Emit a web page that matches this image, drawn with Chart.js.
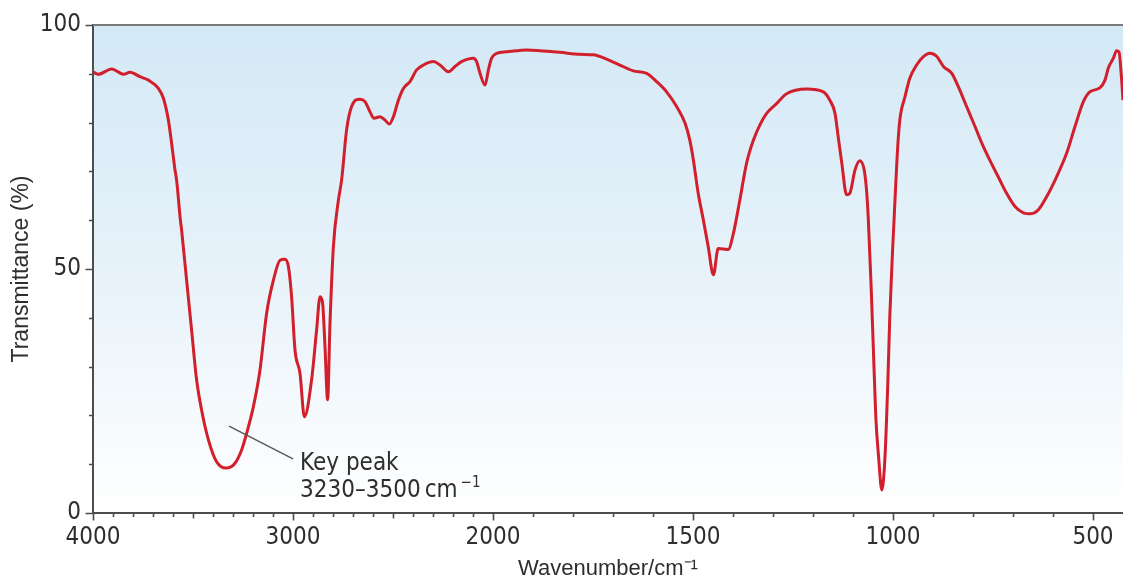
<!DOCTYPE html>
<html>
<head>
<meta charset="utf-8">
<title>IR spectrum</title>
<script src="https://cdn.jsdelivr.net/npm/chart.js@4.4.1/dist/chart.umd.min.js"></script>
<style>
  html, body { margin: 0; padding: 0; background: #fff; }
  #wrap { width: 1123px; height: 583px; }
</style>
</head>
<body>
<div id="wrap"><canvas id="irChart"></canvas></div>
<script>
// spectrum, read point by point (cm-1 / % T)
const wavenumbers = [
  4000, 3973, 3907, 3848, 3815, 3765, 3723, 3673, 3648, 3623, 3607, 3590, 3582, 3563, 3557,
  3532, 3507, 3482, 3457, 3423, 3382, 3335, 3290, 3257, 3232, 3198, 3165, 3132, 3098,
  3065, 3040, 3023, 3007, 2990, 2965, 2943, 2907, 2882, 2865, 2852, 2840, 2827, 2815,
  2798, 2773, 2757, 2732, 2707, 2665, 2640, 2615, 2595, 2565, 2540, 2518, 2498, 2473,
  2448, 2415, 2382, 2348, 2298, 2265, 2223, 2190, 2157, 2098, 2082, 2065, 2040, 2023,
  2007, 1991, 1966, 1916, 1833, 1783, 1749, 1716, 1683, 1649, 1616, 1591, 1566, 1541,
  1520, 1508, 1499, 1487, 1474, 1462, 1449, 1437, 1412, 1399, 1383, 1366, 1349, 1333,
  1316, 1291, 1266, 1216, 1174, 1158, 1145, 1137, 1128, 1116, 1108, 1095, 1083, 1072,
  1066, 1062, 1055, 1049, 1043, 1036, 1028, 1020, 1013, 1008, 1001, 995, 989, 983,
  970, 958, 941, 924, 908, 891, 874, 853, 837, 816, 795, 778, 758, 737,
  716, 695, 674, 658, 637, 616, 591, 566, 545, 524, 508, 483, 470, 462,
  449, 441, 435, 429, 425
];
const transmittance = [
  90.4, 89.9, 91.0, 89.9, 90.3, 89.4, 88.7, 87.0, 85.0, 80.5, 75.8, 70.3, 68.2, 60.0, 58.0,
  47.7, 37.5, 27.3, 21.1, 15.0, 10.5, 9.2, 10.2, 12.9, 16.3, 21.8, 29.3, 40.9, 47.7,
  51.8, 52.0, 50.5, 44.3, 33.4, 28.6, 19.7, 27.3, 37.5, 44.3, 43.0, 34.1, 23.2, 38.9,
  54.6, 64.1, 68.2, 78.5, 83.3, 84.8, 84.3, 82.2, 80.9, 81.2, 80.5, 79.7, 81.2, 84.6,
  87.0, 88.4, 90.8, 91.8, 92.5, 91.8, 90.4, 91.5, 92.5, 93.2, 92.5, 90.1, 87.7, 90.8,
  93.2, 94.2, 94.5, 94.9, 94.4, 94.0, 93.9, 93.0, 91.8, 90.6, 90.1, 88.4, 86.3, 83.3,
  79.9, 76.4, 72.3, 65.5, 60.0, 54.6, 48.8, 54.2, 54.0, 57.3, 64.1, 71.7, 76.4, 79.5,
  81.9, 83.9, 85.9, 86.9, 86.3, 84.6, 81.9, 77.1, 71.7, 65.2, 65.5, 70.3, 72.2, 70.3,
  66.0, 60.7, 47.1, 33.4, 19.7, 11.5, 4.7, 11.5, 26.6, 40.3, 53.9, 64.1, 74.0, 80.5,
  85.3, 89.1, 91.8, 93.5, 94.2, 93.6, 91.5, 90.1, 87.4, 83.3, 79.2, 75.8, 72.3, 68.9,
  65.5, 62.8, 61.5, 61.3, 62.1, 64.8, 68.9, 73.7, 79.2, 84.3, 86.3, 87.1, 88.7, 91.1,
  93.2, 94.7, 94.5, 89.4, 84.6
];
const xLabelled = [4000, 3000, 2000, 1500, 1000, 500];
const yLabelled = [0, 50, 100];

const narrow = '"Liberation Sans Narrow", "DejaVu Sans Condensed", sans-serif';
const regular = '"Liberation Sans", Arial, sans-serif';
const inkColor = '#2e2e2e';
const axisColor = '#4d4d4d';

// the wavenumber axis is drawn at half density above 2000 cm-1
const X_MAX = 4000, X_BREAK = 2000;
function axisUnits(w) {
  return w >= X_BREAK ? (X_MAX - w) / 2 : (X_MAX - X_BREAK) / 2 + (X_BREAK - w);
}
function fromAxisUnits(u) {
  const knee = (X_MAX - X_BREAK) / 2;
  return u <= knee ? X_MAX - u * 2 : X_BREAK - (u - knee);
}

class WavenumberScale extends Chart.LinearScale {
  static id = 'wavenumber';
  buildTicks() {
    const ticks = [];
    for (let v = this.max; v >= 500; v -= 100) ticks.push({ value: v });
    return ticks;
  }
  getPixelForValue(value) {
    if (value === null || value === undefined) return NaN;
    return this.getPixelForDecimal(axisUnits(value) / axisUnits(this.min));
  }
  getValueForPixel(pixel) {
    return fromAxisUnits(this.getDecimalForPixel(pixel) * axisUnits(this.min));
  }
}
Chart.register(WavenumberScale);

// pale blue wash behind the trace
const plotBackground = {
  id: 'plotBackground',
  beforeDraw(chart) {
    const { ctx, chartArea: a } = chart;
    const g = ctx.createLinearGradient(0, a.top, 0, a.bottom);
    g.addColorStop(0, '#d3e9f6');
    g.addColorStop(0.55, '#e9f3fa');
    g.addColorStop(1, '#ffffff');
    ctx.save();
    ctx.fillStyle = g;
    ctx.fillRect(a.left, a.top, a.right - a.left, a.bottom - a.top);
    ctx.restore();
  }
};

// outward tick marks of different lengths, plus the top frame line
const tickMarks = {
  id: 'tickMarks',
  afterDraw(chart) {
    const { ctx, chartArea: a, scales: { x, y } } = chart;
    ctx.save();
    ctx.strokeStyle = axisColor;
    ctx.lineWidth = 1.6;
    ctx.beginPath();
    x.ticks.forEach(t => {
      const px = Math.round(x.getPixelForValue(t.value)) + 0.5;
      let len = 4;
      if (xLabelled.includes(t.value)) len = 7.5;
      else if (t.value % 500 === 0) len = 5.5;
      ctx.moveTo(px, a.bottom);
      ctx.lineTo(px, a.bottom + len);
    });
    y.ticks.forEach(t => {
      const py = Math.round(y.getPixelForValue(t.value)) + 0.5;
      const len = yLabelled.includes(t.value) ? 7.5 : 4;
      ctx.moveTo(a.left, py);
      ctx.lineTo(a.left - len, py);
    });
    ctx.stroke();
    ctx.strokeStyle = '#7a7a7a';
    ctx.lineWidth = 2;
    ctx.beginPath();
    ctx.moveTo(a.left, a.top);
    ctx.lineTo(a.right, a.top);
    ctx.stroke();
    ctx.restore();
  }
};

// leader line and caption for the O-H band
const keyPeak = {
  id: 'keyPeak',
  afterDatasetsDraw(chart) {
    const { ctx, scales: { x, y } } = chart;
    ctx.save();
    ctx.strokeStyle = '#555555';
    ctx.lineWidth = 1.3;
    ctx.beginPath();
    ctx.moveTo(x.getPixelForValue(3320), y.getPixelForValue(17.8));
    ctx.lineTo(x.getPixelForValue(3000), y.getPixelForValue(11.1));
    ctx.stroke();

    const tx = x.getPixelForValue(2965);
    const ty = y.getPixelForValue(8.8);
    ctx.fillStyle = inkColor;
    ctx.textAlign = 'left';
    ctx.textBaseline = 'alphabetic';
    ctx.font = '24px ' + narrow;
    ctx.fillText('Key peak', tx, ty);
    const range = '3230\u20133500';
    ctx.fillText(range, tx, ty + 27);
    let cx = tx + ctx.measureText(range).width + 4;
    ctx.fillText('cm', cx, ty + 27);
    cx += ctx.measureText('cm').width + 3;
    ctx.font = '15px ' + narrow;
    ctx.fillText('\u22121', cx, ty + 17);
    ctx.restore();
  }
};

const points = wavenumbers.map((w, i) => ({ x: w, y: transmittance[i] }));

new Chart(document.getElementById('irChart'), {
  type: 'line',
  data: {
    datasets: [{
      label: 'Transmittance',
      data: points,
      borderColor: '#d11f2b',
      borderWidth: 3,
      pointRadius: 0,
      fill: false,
      cubicInterpolationMode: 'monotone'
    }]
  },
  options: {
    responsive: true,
    maintainAspectRatio: false,
    animation: false,
    events: [],
    layout: { padding: { top: 25, right: 0, left: 0, bottom: 0 } },
    plugins: {
      legend: { display: false },
      tooltip: { enabled: false }
    },
    scales: {
      x: {
        type: 'wavenumber',
        min: 425,
        max: 4000,
        grid: { drawOnChartArea: false, tickColor: 'rgba(0,0,0,0)', tickLength: 8 },
        border: { color: axisColor, width: 2 },
        ticks: {
          autoSkip: false,
          maxRotation: 0,
          padding: 2,
          color: inkColor,
          font: { family: narrow, size: 24 },
          callback: v => xLabelled.includes(v) ? String(v) : ''
        },
        title: {
          display: true,
          text: 'Wavenumber/cm\u207B\u00B9',
          color: inkColor,
          font: { family: regular, size: 22 },
          padding: { top: 0, bottom: 1 }
        },
        afterFit: s => { s.height = 70; }
      },
      y: {
        min: 0,
        max: 100,
        grid: { drawOnChartArea: false, tickColor: 'rgba(0,0,0,0)', tickLength: 8 },
        border: { color: axisColor, width: 2 },
        ticks: {
          stepSize: 10,
          padding: 4,
          color: inkColor,
          font: { family: narrow, size: 24 },
          callback: v => yLabelled.includes(v) ? String(v) : ''
        },
        title: {
          display: true,
          text: 'Transmittance (%)',
          color: inkColor,
          font: { family: regular, size: 23 },
          padding: { top: 8, bottom: 0 }
        },
        afterFit: s => { s.width = 93; }
      }
    }
  },
  plugins: [plotBackground, tickMarks, keyPeak]
});
</script>
</body>
</html>
